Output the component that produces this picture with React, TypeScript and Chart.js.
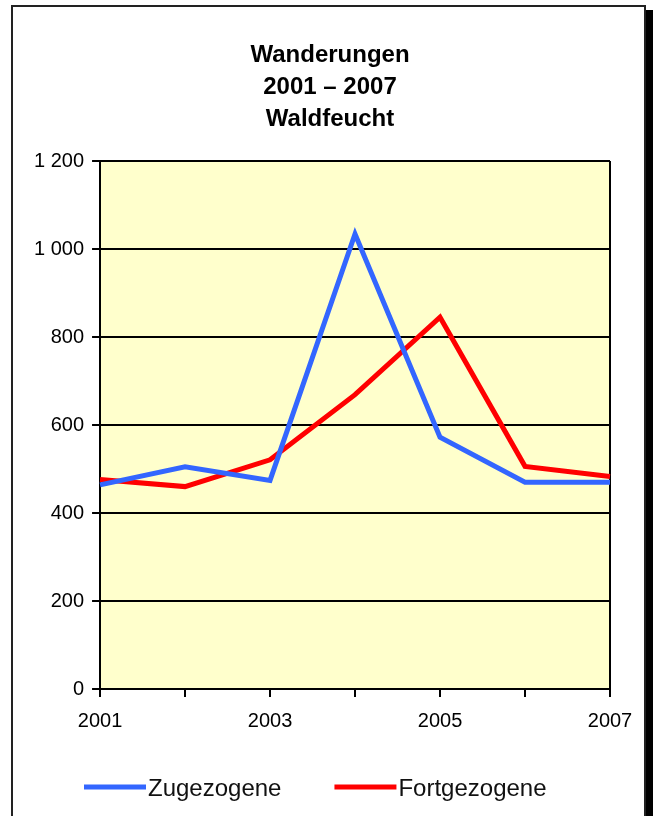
import React, { useEffect, useRef } from "react";
import { Chart, registerables } from "chart.js";

Chart.register(...registerables);

const titleLines = ["Wanderungen", "2001 – 2007", "Waldfeucht"];
const years = ["2001", "2002", "2003", "2004", "2005", "2006", "2007"];
const zugezogene = [464, 505, 474, 1034, 572, 470, 470];
const fortgezogene = [476, 460, 521, 669, 845, 506, 483];
const seriesNames = ["Zugezogene", "Fortgezogene"];
const seriesColors = ["#3366FF", "#FF0000"];

const FONT = "'Liberation Sans', Arial, sans-serif";

const framePlugin = {
  id: "frame",
  beforeDraw(chart: any) {
    const { ctx, width, height, chartArea } = chart;
    ctx.save();
    ctx.fillStyle = "#ffffff";
    ctx.fillRect(0, 0, width, height);
    ctx.strokeStyle = "#222";
    ctx.lineWidth = 2;
    ctx.beginPath();
    ctx.moveTo(12, height + 2);
    ctx.lineTo(12, 6);
    ctx.lineTo(645, 6);
    ctx.lineTo(645, height + 2);
    ctx.stroke();
    ctx.fillStyle = "#000";
    ctx.fillRect(646, 10, 7, height - 10);
    ctx.fillStyle = "#FFFFCC";
    ctx.fillRect(chartArea.left, chartArea.top, chartArea.right - chartArea.left, chartArea.bottom - chartArea.top);
    // title
    ctx.fillStyle = "#000";
    ctx.font = `bold 24px ${FONT}`;
    ctx.textAlign = "center";
    ctx.textBaseline = "middle";
    titleLines.forEach((t, i) => ctx.fillText(t, 330, 55 + i * 32));
    ctx.restore();
  },
  beforeDatasetsDraw(chart: any) {
    const { ctx, chartArea } = chart;
    ctx.save();
    ctx.strokeStyle = "#000";
    ctx.lineWidth = 2;
    ctx.beginPath();
    ctx.moveTo(chartArea.right, chartArea.top);
    ctx.lineTo(chartArea.right, chartArea.bottom);
    ctx.stroke();
    ctx.restore();
  },
  afterDraw(chart: any) {
    const { ctx } = chart;
    ctx.save();
    ctx.font = `24px ${FONT}`;
    ctx.textBaseline = "alphabetic";
    ctx.textAlign = "left";
    let x = 84;
    const y = 787;
    chart.data.datasets.forEach((ds: any) => {
      ctx.strokeStyle = ds.borderColor;
      ctx.lineWidth = 5;
      ctx.beginPath();
      ctx.moveTo(x, y);
      ctx.lineTo(x + 62, y);
      ctx.stroke();
      ctx.fillStyle = "#111";
      ctx.fillText(ds.label, x + 64, y + 9);
      const w = ctx.measureText(ds.label).width;
      x = x + 64 + w + 53;
    });
    ctx.restore();
  },
};

export default function App() {
  const ref = useRef<HTMLCanvasElement | null>(null);
  useEffect(() => {
    if (!ref.current) return;
    const chart = new Chart(ref.current, {
      type: "line",
      data: {
        labels: years,
        datasets: [
          {
            label: seriesNames[0],
            data: zugezogene,
            borderColor: seriesColors[0],
            backgroundColor: seriesColors[0],
            borderWidth: 5,
            pointRadius: 0,
            tension: 0,
          },
          {
            label: seriesNames[1],
            data: fortgezogene,
            borderColor: seriesColors[1],
            backgroundColor: seriesColors[1],
            borderWidth: 5,
            pointRadius: 0,
            tension: 0,
          },
        ],
      },
      options: {
        animation: false,
        responsive: false,
        devicePixelRatio: 1,
        layout: { padding: { top: 161, left: 26, right: 48, bottom: 71 } },
        plugins: {
          legend: { display: false },
          tooltip: { enabled: false },
          title: { display: false },
        },
        scales: {
          x: {
            offset: false,
            grid: { drawOnChartArea: false, drawTicks: true, tickLength: 8, color: "#000", lineWidth: 2 },
            border: { display: true, color: "#000", width: 2 },
            ticks: {
              autoSkip: false,
              maxRotation: 0,
              color: "#000",
              padding: 12,
              font: { family: FONT, size: 20 },
              callback: function (this: any, value: any, index: number) {
                return index % 2 === 0 ? this.getLabelForValue(value) : "";
              },
            },
          },
          y: {
            min: 0,
            max: 1200,
            grid: { color: "#000", lineWidth: 2, tickLength: 8, drawTicks: true },
            border: { display: true, color: "#000", width: 2 },
            ticks: {
              stepSize: 200,
              color: "#000",
              padding: 8,
              font: { family: FONT, size: 20 },
              callback: (v: any) => {
                const n = Number(v);
                return n >= 1000 ? `${Math.floor(n / 1000)} ${String(n % 1000).padStart(3, "0")}` : String(n);
              },
            },
          },
        },
      },
      plugins: [framePlugin],
    });
    return () => chart.destroy();
  }, []);
  return (
    <div style={{ position: "absolute", left: 0, top: 0, width: 658, height: 816 }}>
      <canvas ref={ref} width={658} height={816} style={{ width: 658, height: 816, display: "block" }} />
    </div>
  );
}
